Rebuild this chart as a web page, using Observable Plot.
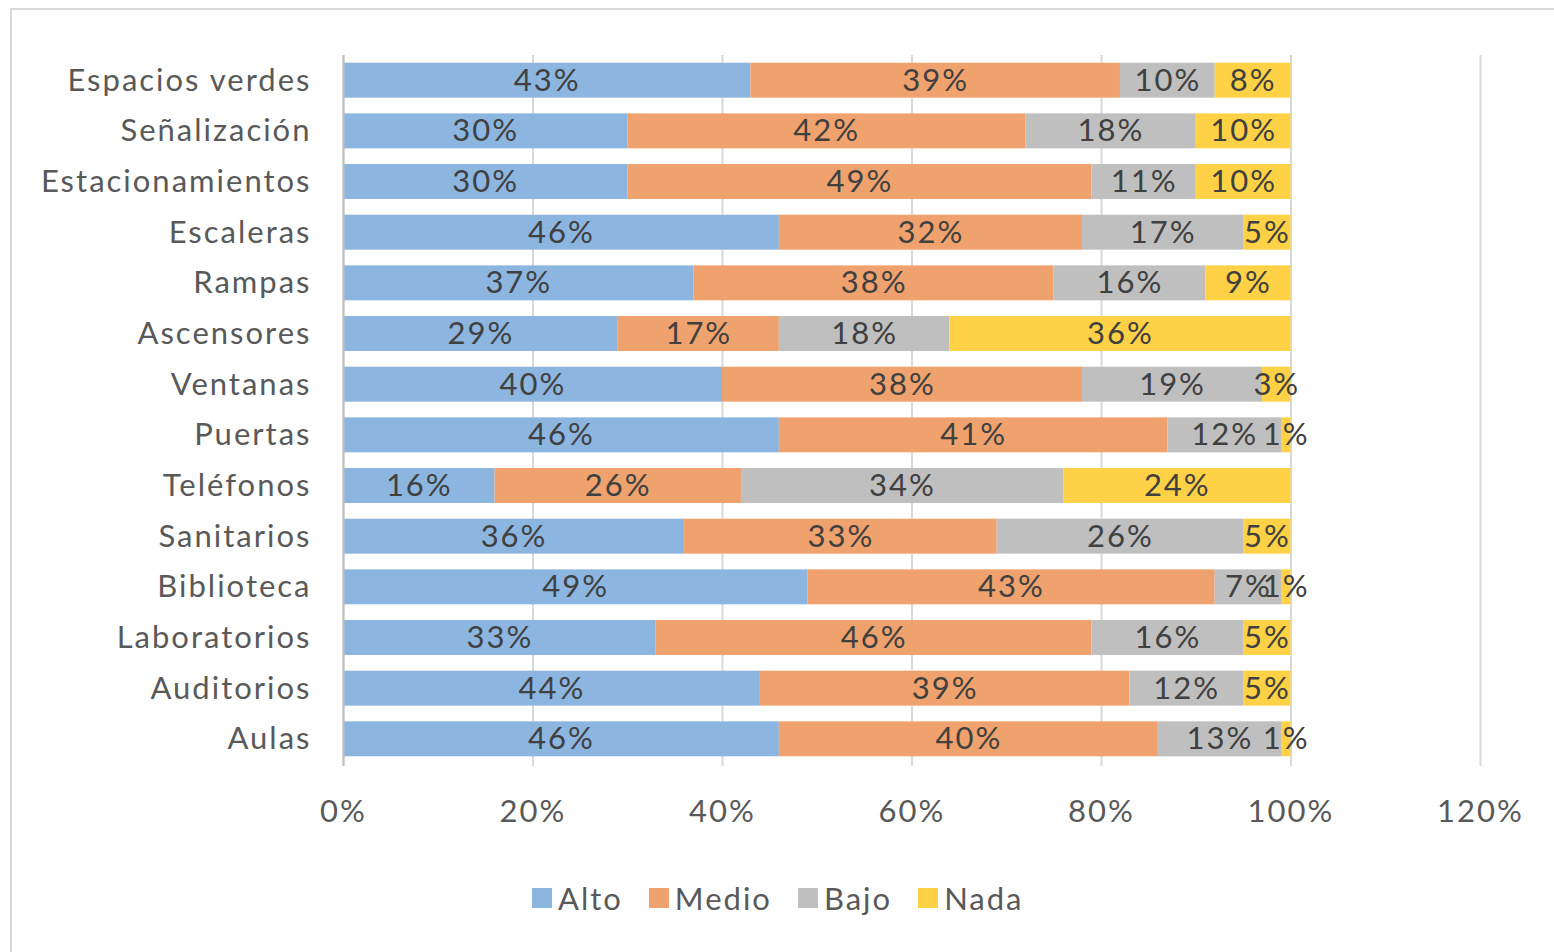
<!DOCTYPE html>
<html>
<head>
<meta charset="utf-8">
<script src="https://cdn.jsdelivr.net/npm/d3@7"></script>
<script src="https://cdn.jsdelivr.net/npm/@observablehq/plot@0.6"></script>
<style>
  html, body { margin: 0; padding: 0; background: #fff; width: 1554px; height: 952px; overflow: hidden; }
  #frame { position: absolute; left: 10px; top: 8px; width: 1600px; height: 1000px; border: 2px solid #d9d9d9; box-sizing: border-box; }
  #chart { position: absolute; left: 0; top: 0; }
  #chart svg text { letter-spacing: 2px; }
  #legend { position: absolute; left: 532px; top: 878px; height: 40px; display: flex; align-items: center; font-family: Lato, "Open Sans", sans-serif; font-size: 31px; letter-spacing: 2px; color: #595959; }
  #legend .item { display: flex; align-items: center; margin-right: 26px; }
  #legend .sw { width: 20px; height: 20px; margin-right: 6px; }
</style>
</head>
<body>
<div id="frame"></div>
<div id="chart"></div>
<div id="legend"></div>
<script>
const categories = ["Espacios verdes", "Señalización", "Estacionamientos", "Escaleras", "Rampas", "Ascensores", "Ventanas", "Puertas", "Teléfonos", "Sanitarios", "Biblioteca", "Laboratorios", "Auditorios", "Aulas"];
const seriesNames = ["Alto", "Medio", "Bajo", "Nada"];
const alto  = [43, 30, 30, 46, 37, 29, 40, 46, 16, 36, 49, 33, 44, 46];
const medio = [39, 42, 49, 32, 38, 17, 38, 41, 26, 33, 43, 46, 39, 40];
const bajo  = [10, 18, 11, 17, 16, 18, 19, 12, 34, 26, 7, 16, 12, 13];
const nada  = [8, 10, 10, 5, 9, 36, 3, 1, 24, 5, 1, 5, 5, 1];
const seriesColors = ["#8cb6e0", "#efa26d", "#bfbfbf", "#ffd146"];
const xTicks = [0, 20, 40, 60, 80, 100, 120];
const xTickLabels = ["0%", "20%", "40%", "60%", "80%", "100%", "120%"];

const seriesValues = [alto, medio, bajo, nada];
const data = [];
categories.forEach((c, i) => {
  seriesNames.forEach((s, j) => {
    data.push({ category: c, series: s, value: seriesValues[j][i] });
  });
});

const font = 'Lato, "Open Sans", sans-serif';
const fmtTick = (d) => xTickLabels[xTicks.indexOf(d)];

const chart = Plot.plot({
  width: 1554,
  height: 820,
  marginLeft: 343,
  marginRight: 74,
  marginTop: 47,
  marginBottom: 48,
  style: { fontFamily: font, fontSize: "31px", color: "#595959", background: "transparent", overflow: "visible" },
  x: { domain: [0, 120], ticks: xTicks, tickFormat: fmtTick, label: null },
  y: { domain: categories, padding: 0.31, round: false, label: null },
  color: { domain: seriesNames, range: seriesColors },
  marks: [
    Plot.ruleX(xTicks, { stroke: "#d9d9d9", strokeWidth: 2, insetTop: 8, insetBottom: 6 }),
    Plot.barX(data, Plot.stackX({ y: "category", x: "value", fill: "series", order: seriesNames })),
    Plot.ruleX([0], { stroke: "#bfbfbf", strokeWidth: 2, insetTop: 8, insetBottom: 6 }),
    Plot.text(data, Plot.stackX({ y: "category", x: "value", z: "series", order: seriesNames, text: (d) => d.value + "%", fill: "#404040", fontSize: 31 })),
    Plot.axisX({ ticks: xTicks, tickFormat: fmtTick, tickSize: 0, tickPadding: 27, fill: "#595959", fontSize: 31 }),
    Plot.axisY({ tickSize: 0, tickPadding: 32, fill: "#595959", fontSize: 31 })
  ]
});
document.getElementById("chart").appendChild(chart);

const legend = document.getElementById("legend");
seriesNames.forEach((s, i) => {
  const item = document.createElement("div");
  item.className = "item";
  const sw = document.createElement("div");
  sw.className = "sw";
  sw.style.background = seriesColors[i];
  const label = document.createElement("span");
  label.textContent = s;
  item.appendChild(sw);
  item.appendChild(label);
  legend.appendChild(item);
});
</script>
</body>
</html>
